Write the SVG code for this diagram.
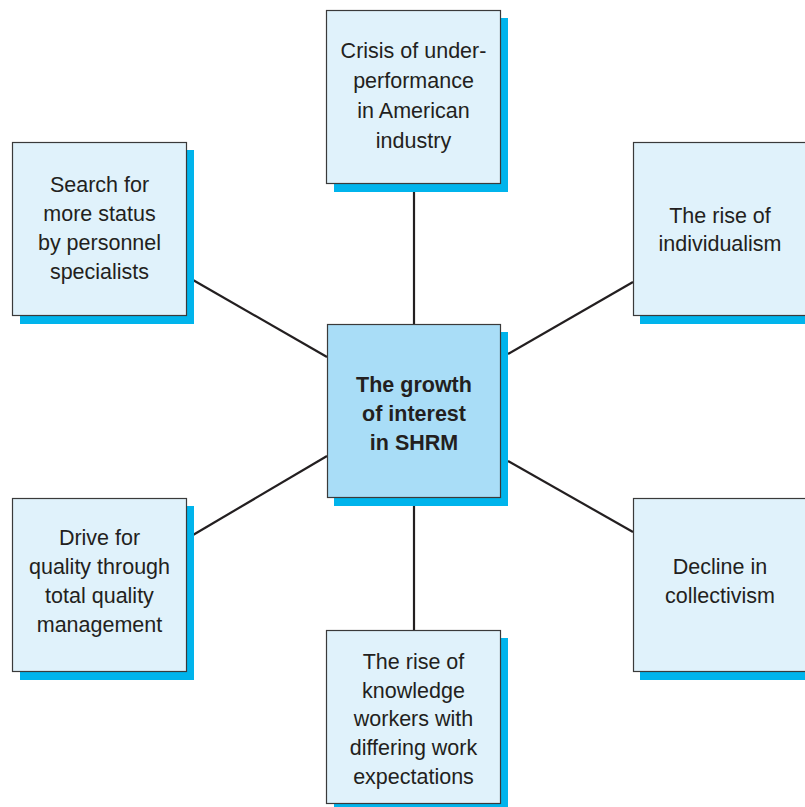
<svg xmlns="http://www.w3.org/2000/svg" width="805" height="807" viewBox="0 0 805 807">
  <style>
    .shadow { fill: #00b4ec; }
    .box { fill: #e0f2fb; stroke: #3a3a3a; stroke-width: 1.2; }
    .hub { fill: #a9ddf7; stroke: #3a3a3a; stroke-width: 1.2; }
    .link { stroke: #231f20; stroke-width: 2.2; fill: none; }
    text { font-family: "Liberation Sans", Arial, Helvetica, sans-serif; font-size: 21.5px; fill: #231f20; text-anchor: middle; }
    .bold { font-weight: bold; }
  </style>
  <rect width="805" height="807" fill="#ffffff"/>

  <g id="connectors">
    <line class="link" x1="414" y1="184" x2="414" y2="324"/>
    <line class="link" x1="414" y1="506" x2="414" y2="630"/>
    <line class="link" x1="193" y1="280" x2="327" y2="357"/>
    <line class="link" x1="508" y1="354" x2="633" y2="282"/>
    <line class="link" x1="193" y1="535" x2="327" y2="456"/>
    <line class="link" x1="508" y1="461" x2="633" y2="532"/>
  </g>

  <g id="node-top">
    <rect class="shadow" x="334" y="18" width="174" height="174"/>
    <rect class="box" x="326.5" y="10.5" width="174" height="173"/>
    <text x="413.5" y="58">Crisis of under-</text>
    <text x="413.5" y="88">performance</text>
    <text x="413.5" y="118">in American</text>
    <text x="413.5" y="148">industry</text>
  </g>

  <g id="node-top-left">
    <rect class="shadow" x="20" y="150" width="174" height="174"/>
    <rect class="box" x="12.5" y="142.5" width="174" height="173"/>
    <text x="99.5" y="192">Search for</text>
    <text x="99.5" y="221">more status</text>
    <text x="99.5" y="250">by personnel</text>
    <text x="99.5" y="279">specialists</text>
  </g>

  <g id="node-top-right">
    <rect class="shadow" x="640" y="150" width="174" height="174"/>
    <rect class="box" x="633.5" y="142.5" width="174" height="173"/>
    <text x="720" y="223">The rise of</text>
    <text x="720" y="251">individualism</text>
  </g>

  <g id="node-center">
    <rect class="shadow" x="334" y="332" width="174" height="174"/>
    <rect class="hub" x="327.5" y="324.5" width="173" height="173"/>
    <text class="bold" x="414" y="392">The growth</text>
    <text class="bold" x="414" y="421">of interest</text>
    <text class="bold" x="414" y="450">in SHRM</text>
  </g>

  <g id="node-bottom-left">
    <rect class="shadow" x="20" y="506" width="174" height="174"/>
    <rect class="box" x="12.5" y="498.5" width="174" height="173"/>
    <text x="99.5" y="545">Drive for</text>
    <text x="99.5" y="574">quality through</text>
    <text x="99.5" y="603">total quality</text>
    <text x="99.5" y="632">management</text>
  </g>

  <g id="node-bottom-right">
    <rect class="shadow" x="640" y="506" width="174" height="174"/>
    <rect class="box" x="633.5" y="498.5" width="174" height="173"/>
    <text x="720" y="574">Decline in</text>
    <text x="720" y="603">collectivism</text>
  </g>

  <g id="node-bottom">
    <rect class="shadow" x="334" y="638" width="174" height="174"/>
    <rect class="box" x="326.5" y="630.5" width="174" height="173"/>
    <text x="413.5" y="669">The rise of</text>
    <text x="413.5" y="698">knowledge</text>
    <text x="413.5" y="726">workers with</text>
    <text x="413.5" y="755">differing work</text>
    <text x="413.5" y="784">expectations</text>
  </g>
</svg>
